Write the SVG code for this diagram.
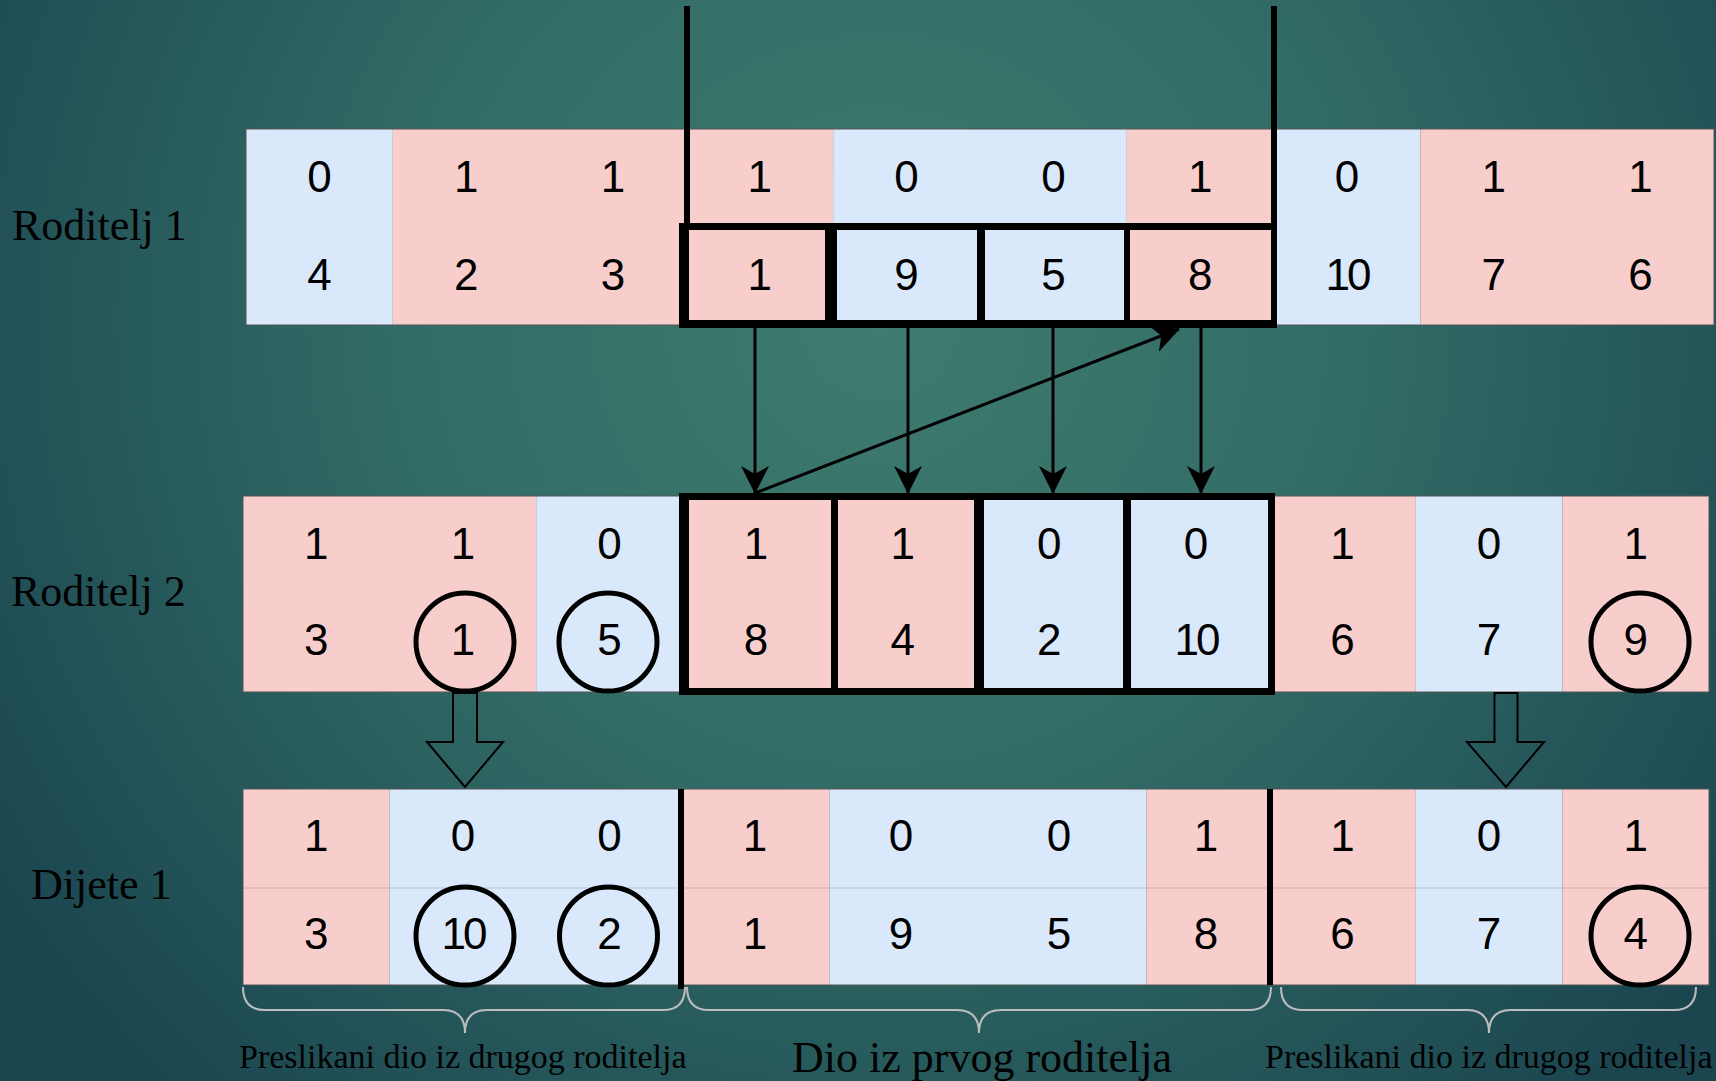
<svg xmlns="http://www.w3.org/2000/svg" width="1716" height="1081" viewBox="0 0 1716 1081">
<defs>
<radialGradient id="bg" gradientUnits="userSpaceOnUse" cx="880" cy="320" r="1050">
<stop offset="0" stop-color="#3f7b6f"/>
<stop offset="0.45" stop-color="#326c66"/>
<stop offset="1" stop-color="#1b4650"/>
</radialGradient>
<marker id="arr" markerUnits="userSpaceOnUse" viewBox="0 0 28 28" markerWidth="28" markerHeight="28" refX="27" refY="14" orient="auto">
<path d="M0,0 L28,14 L0,28 L8,14 Z" fill="#000"/>
</marker>
</defs>
<style>
.pink{fill:#f8cecc}
.blue{fill:#dae8fc}
.frame{fill:none;stroke:#555;stroke-width:1}
.num{font-family:"Liberation Sans",Arial,sans-serif;font-size:44px;text-anchor:middle;fill:#000}
.ten{letter-spacing:-3px}
.lbl{font-family:"Liberation Serif","Times New Roman",serif;font-size:44px;fill:#000}
.cap{font-family:"Liberation Serif","Times New Roman",serif;font-size:34px;fill:#000}
.capbig{font-family:"Liberation Serif","Times New Roman",serif;font-size:44px;fill:#000}
.ring{fill:none;stroke:#000;stroke-width:5}
.bar{fill:#000}
.conn{stroke:#000;stroke-width:3;fill:none}
.hollow{fill:none;stroke:#000;stroke-width:2;stroke-linejoin:miter}
.brace{fill:none;stroke:#bdbdbd;stroke-width:2}
</style>
<rect x="0" y="0" width="1716" height="1081" fill="url(#bg)"/>

<g id="label-roditelj1"><text class="lbl" x="12" y="240">Roditelj 1</text></g>
<g id="label-roditelj2"><text class="lbl" x="11" y="606">Roditelj 2</text></g>
<g id="label-dijete1"><text class="lbl" x="31" y="899">Dijete 1</text></g>

<g id="roditelj1">
<rect class="blue" x="246" y="129" width="146.8" height="196"/>
<rect class="pink" x="392.8" y="129" width="440.4" height="196"/>
<rect class="blue" x="833.2" y="129" width="293.6" height="196"/>
<rect class="pink" x="1126.8" y="129" width="146.8" height="196"/>
<rect class="blue" x="1273.6" y="129" width="146.8" height="196"/>
<rect class="pink" x="1420.4" y="129" width="293.6" height="196"/>
<rect class="frame" x="246" y="129" width="1468" height="196"/>
<text class="num" x="319.4" y="192">0</text>
<text class="num" x="466.2" y="192">1</text>
<text class="num" x="613" y="192">1</text>
<text class="num" x="759.8" y="192">1</text>
<text class="num" x="906.6" y="192">0</text>
<text class="num" x="1053.4" y="192">0</text>
<text class="num" x="1200.2" y="192">1</text>
<text class="num" x="1347" y="192">0</text>
<text class="num" x="1493.8" y="192">1</text>
<text class="num" x="1640.6" y="192">1</text>
<text class="num" x="319.4" y="290">4</text>
<text class="num" x="466.2" y="290">2</text>
<text class="num" x="613" y="290">3</text>
<text class="num" x="759.8" y="290">1</text>
<text class="num" x="906.6" y="290">9</text>
<text class="num" x="1053.4" y="290">5</text>
<text class="num" x="1200.2" y="290">8</text>
<text class="num ten" x="1347" y="290">10</text>
<text class="num" x="1493.8" y="290">7</text>
<text class="num" x="1640.6" y="290">6</text>
</g>

<g id="roditelj1-section">
<rect class="bar" x="684" y="6" width="6" height="218"/>
<rect class="bar" x="1271" y="6" width="6" height="322"/>
<rect class="bar" x="679" y="223" width="598" height="7"/>
<rect class="bar" x="679" y="320" width="598" height="8"/>
<rect class="bar" x="679" y="223" width="10" height="105"/>
<rect class="bar" x="825" y="223" width="12" height="105"/>
<rect class="bar" x="977" y="223" width="8" height="105"/>
<rect class="bar" x="1124" y="223" width="6" height="105"/>
</g>

<g id="roditelj2">
<rect class="pink" x="243" y="496" width="293.2" height="196"/>
<rect class="blue" x="536.2" y="496" width="146.6" height="196"/>
<rect class="pink" x="682.8" y="496" width="293.2" height="196"/>
<rect class="blue" x="976" y="496" width="293.2" height="196"/>
<rect class="pink" x="1269.2" y="496" width="146.6" height="196"/>
<rect class="blue" x="1415.8" y="496" width="146.6" height="196"/>
<rect class="pink" x="1562.4" y="496" width="146.6" height="196"/>
<rect class="frame" x="243" y="496" width="1466" height="196"/>
<text class="num" x="316.3" y="559">1</text>
<text class="num" x="462.9" y="559">1</text>
<text class="num" x="609.5" y="559">0</text>
<text class="num" x="756" y="559">1</text>
<text class="num" x="902.7" y="559">1</text>
<text class="num" x="1049.3" y="559">0</text>
<text class="num" x="1195.9" y="559">0</text>
<text class="num" x="1342.5" y="559">1</text>
<text class="num" x="1489.1" y="559">0</text>
<text class="num" x="1635.7" y="559">1</text>
<text class="num" x="316.3" y="655">3</text>
<text class="num" x="462.9" y="655">1</text>
<text class="num" x="609.5" y="655">5</text>
<text class="num" x="756" y="655">8</text>
<text class="num" x="902.7" y="655">4</text>
<text class="num" x="1049.3" y="655">2</text>
<text class="num ten" x="1196" y="655">10</text>
<text class="num" x="1342.5" y="655">6</text>
<text class="num" x="1489.1" y="655">7</text>
<text class="num" x="1635.7" y="655">9</text>
<circle class="ring" cx="465" cy="642" r="49"/>
<circle class="ring" cx="608" cy="642" r="49"/>
<circle class="ring" cx="1640" cy="642" r="49"/>
</g>

<g id="roditelj2-section">
<rect class="bar" x="679" y="493" width="596" height="7"/>
<rect class="bar" x="679" y="688" width="596" height="7"/>
<rect class="bar" x="679" y="493" width="10" height="202"/>
<rect class="bar" x="831" y="493" width="7" height="202"/>
<rect class="bar" x="974" y="493" width="10" height="202"/>
<rect class="bar" x="1123" y="493" width="8" height="202"/>
<rect class="bar" x="1268" y="493" width="7" height="202"/>
</g>

<g id="dijete1">
<rect class="pink" x="243" y="789" width="146.6" height="196"/>
<rect class="blue" x="389.6" y="789" width="293.2" height="196"/>
<rect class="pink" x="682.8" y="789" width="146.6" height="196"/>
<rect class="blue" x="829.4" y="789" width="317.1" height="196"/>
<rect class="pink" x="1146.5" y="789" width="269.3" height="196"/>
<rect class="blue" x="1415.8" y="789" width="146.6" height="196"/>
<rect class="pink" x="1562.4" y="789" width="146.6" height="196"/>
<line x1="243" y1="888" x2="1709" y2="888" stroke="#000" stroke-opacity="0.1" stroke-width="1.5"/>
<rect class="frame" x="243" y="789" width="1466" height="196"/>
<rect class="bar" x="678" y="789" width="6" height="200"/>
<rect class="bar" x="1267" y="789" width="6" height="196"/>
<text class="num" x="316.3" y="851">1</text>
<text class="num" x="462.9" y="851">0</text>
<text class="num" x="609.5" y="851">0</text>
<text class="num" x="755" y="851">1</text>
<text class="num" x="901" y="851">0</text>
<text class="num" x="1059" y="851">0</text>
<text class="num" x="1206" y="851">1</text>
<text class="num" x="1342.5" y="851">1</text>
<text class="num" x="1489.1" y="851">0</text>
<text class="num" x="1635.7" y="851">1</text>
<text class="num" x="316.3" y="949">3</text>
<text class="num ten" x="463" y="949">10</text>
<text class="num" x="609.5" y="949">2</text>
<text class="num" x="755" y="949">1</text>
<text class="num" x="901" y="949">9</text>
<text class="num" x="1059" y="949">5</text>
<text class="num" x="1206" y="949">8</text>
<text class="num" x="1342.5" y="949">6</text>
<text class="num" x="1489.1" y="949">7</text>
<text class="num" x="1635.7" y="949">4</text>
<circle class="ring" cx="465" cy="936" r="49"/>
<circle class="ring" cx="608.5" cy="936" r="49"/>
<circle class="ring" cx="1640" cy="936" r="49"/>
</g>

<g id="connectors">
<line class="conn" x1="755" y1="328" x2="755" y2="493" marker-end="url(#arr)"/>
<line class="conn" x1="908" y1="328" x2="908" y2="493" marker-end="url(#arr)"/>
<line class="conn" x1="1053" y1="328" x2="1053" y2="493" marker-end="url(#arr)"/>
<line class="conn" x1="1201" y1="328" x2="1201" y2="493" marker-end="url(#arr)"/>
<line class="conn" x1="755" y1="493" x2="1179" y2="329" marker-end="url(#arr)"/>
<polygon class="hollow" points="453,693 453,742 427,742 465,787 503,742 477,742 477,693"/>
<polygon class="hollow" points="1494.5,693 1494.5,742 1467,742 1506,787 1544,742 1517.5,742 1517.5,693"/>
</g>

<g id="brace-left">
<path class="brace" d="M243,987 Q243,1010 265,1010 L443,1010 Q465,1010 465,1033 Q465,1010 487,1010 L663,1010 Q685,1010 685,987"/>
<text class="cap" x="239" y="1068">Preslikani dio iz drugog roditelja</text>
</g>
<g id="brace-middle">
<path class="brace" d="M687,987 Q687,1010 709,1010 L957,1010 Q979,1010 979,1033 Q979,1010 1001,1010 L1249,1010 Q1271,1010 1271,987"/>
<text class="capbig" x="792" y="1072">Dio iz prvog roditelja</text>
</g>
<g id="brace-right">
<path class="brace" d="M1281,987 Q1281,1010 1303,1010 L1467,1010 Q1489,1010 1489,1033 Q1489,1010 1511,1010 L1674,1010 Q1696,1010 1696,987"/>
<text class="cap" x="1265" y="1068">Preslikani dio iz drugog roditelja</text>
</g>
</svg>
